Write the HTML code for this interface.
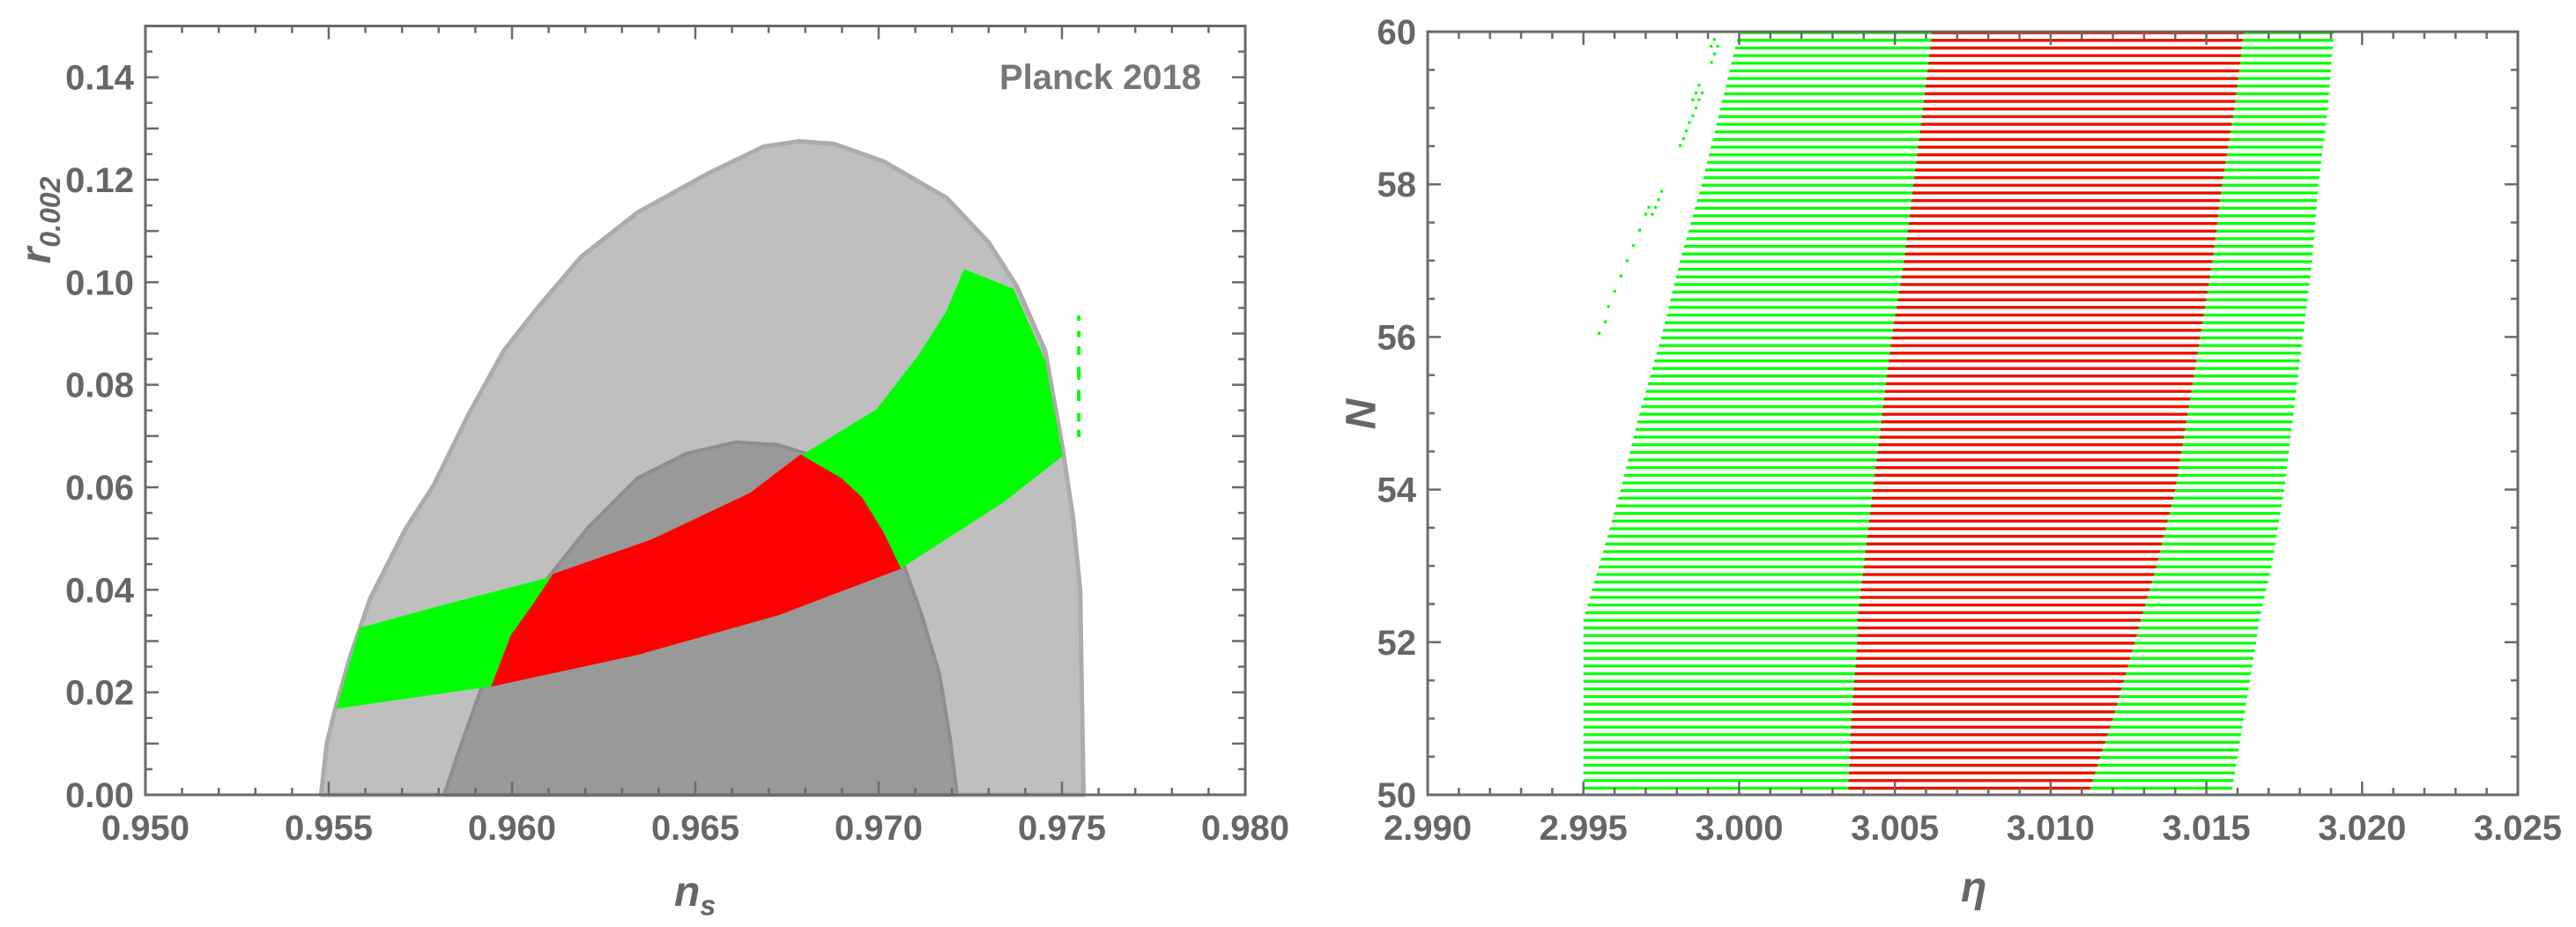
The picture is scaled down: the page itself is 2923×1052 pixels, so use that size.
<!DOCTYPE html>
<html><head><meta charset="utf-8"><style>
html,body{margin:0;padding:0;background:#fff;}
svg{display:block;font-family:"Liberation Sans",sans-serif;}
.tl{font-size:40px;font-weight:bold;fill:#666;}
</style></head><body>
<svg id="chart" width="2923" height="1052" viewBox="0 0 2923 1052" xmlns="http://www.w3.org/2000/svg">
<defs>
<pattern id="gstripe" patternUnits="userSpaceOnUse" x="0" y="35.5" width="20" height="8.66"><rect x="0" y="0" width="20" height="3.2" fill="#00ff00"/></pattern>
<pattern id="rstripe" patternUnits="userSpaceOnUse" x="0" y="35.5" width="20" height="8.66"><rect x="0" y="0" width="20" height="3.2" fill="#ff0000"/></pattern>
</defs>
<g id="left"></g>
<g id="right"></g>
</svg>
<script>
// ---- Left panel data (ns, r) ----
const lightNs=[.95479,.95495,.95518,.95556,.95613,.95709,.95786,.95882,.95978,.96074,.96189,.96342,.96534,.96687,.96783,.96879,.97013,.97185,.97300,.97377,.97454,.97502,.97530,.97550,.97553,.97559];
const lightR=[0,.0101,.0168,.0264,.0383,.0518,.0604,.0743,.0867,.0954,.1050,.1136,.1212,.1265,.1275,.1270,.1236,.1165,.1078,.0992,.0867,.0676,.0542,.0398,.0254,0];
const darkNs=[.95815,.95853,.95920,.96016,.96112,.96208,.96342,.96476,.96610,.96725,.96802,.96898,.96974,.97070,.97118,.97166,.97195,.97214];
const darkR=[0,.0081,.0216,.0350,.0436,.0522,.0618,.0666,.0688,.0683,.0666,.0618,.0551,.0446,.0350,.0235,.0110,0];
const greenNs=[.95521,.95585,.95805,.96121,.96380,.96649,.96802,.96994,.97109,.97185,.97233,.97368,.97454,.97502,.97339,.97070,.96725,.96342,.95939];
const greenR=[.0168,.0326,.0369,.0428,.0498,.0589,.0668,.0752,.0858,.0944,.1026,.0987,.0848,.0661,.0570,.0446,.0350,.0273,.0211];
const redNs=[.96112,.96380,.96649,.96787,.96898,.96955,.97013,.97061,.96725,.96342,.95943,.95997,.96054];
const redR=[.0431,.0498,.0589,.0664,.0618,.0580,.0513,.0441,.0350,.0273,.0211,.0312,.0369];
const dashNs=.97546;
const dashR0=[.0935,.0905,.0875,.0835,.0790,.0745,.0712];
const dashR1=[.0925,.0893,.0858,.0810,.0768,.0728,.0698];
const leftXTicks=["0.950","0.955","0.960","0.965","0.970","0.975","0.980"];
const leftYTicks=["0.00","0.02","0.04","0.06","0.08","0.10","0.12","0.14"];
// ---- Right panel data (eta boundaries vs N) ----
const knN=[50,51,52,52.3,53,54,55,56,57,58,59,60];
const gLeft=[2.995,2.995,2.995,2.995,2.9955,2.9962,2.9968,2.9975,2.9981,2.9988,2.9994,3.0000];
const rLeft=[3.0035,3.0036,3.0038,3.0038,3.0040,3.0043,3.0046,3.0049,3.0053,3.0056,3.0059,3.0062];
const rRight=[3.0112,3.0120,3.0127,3.0129,3.0134,3.0140,3.0144,3.0148,3.0152,3.0155,3.0159,3.0162];
const gRight=[3.0158,3.0162,3.0166,3.0167,3.0171,3.0175,3.0178,3.0181,3.0184,3.0186,3.0189,3.0191];
const dotEta=[2.99920,2.99910,2.99931,2.99921,2.99911,2.99871,2.99861,2.99881,2.99851,2.99871,2.99861,2.99851,2.99840,2.99830,2.99821,2.99811,2.99751,2.99741,2.99710,2.99731,2.99700,2.99721,2.9968,2.9966,2.9964,2.9962,2.9960,2.9958,2.9957,2.9955];
const dotN=[59.90,59.81,59.81,59.71,59.60,59.30,59.20,59.20,59.11,59.11,59.00,58.90,58.81,58.70,58.60,58.51,57.91,57.80,57.70,57.70,57.61,57.61,57.4,57.2,57.0,56.8,56.6,56.4,56.2,56.05];
const rightXTicks=["2.990","2.995","3.000","3.005","3.010","3.015","3.020","3.025"];
const rightYTicks=["50","52","54","56","58","60"];

const NS="http://www.w3.org/2000/svg";
function mk(parent,tag,attrs){const e=document.createElementNS(NS,tag);for(const k in attrs)e.setAttribute(k,attrs[k]);parent.appendChild(e);return e;}
// left axes
const L={x0:165,x1:1413,y0:902,y1:29.5};
const lx=v=>L.x0+(v-0.95)/0.03*(L.x1-L.x0);
const ly=v=>L.y0-v/0.15*(L.y0-L.y1);
const R={x0:1620,x1:2857,y0:902,y1:36};
const rx=v=>R.x0+(v-2.99)/0.035*(R.x1-R.x0);
const ry=v=>R.y0-(v-50)/10*(R.y0-R.y1);

const gl=document.getElementById('left');
function poly(g,xs,ys,fx,fy,attrs,name){
  const pts=xs.map((v,i)=>fx(v).toFixed(1)+','+fy(ys[i]).toFixed(1)).join(' ');
  const p=mk(g,'polygon',Object.assign({points:pts},attrs));
  
  
  return p;
}
poly(gl,lightNs,lightR,lx,ly,{fill:'#bfbfbf',stroke:'#acacac','stroke-width':5,'stroke-linejoin':'round'},'planck-95-region');
poly(gl,darkNs,darkR,lx,ly,{fill:'#999999',stroke:'#8e8e8e','stroke-width':4,'stroke-linejoin':'round'},'planck-68-region');
poly(gl,greenNs,greenR,lx,ly,{fill:'#00ff00'},'green-region');
poly(gl,redNs,redR,lx,ly,{fill:'#ff0000'},'red-region');
dashR0.forEach((v,i)=>{
  const d=mk(gl,'line',{x1:lx(dashNs),x2:lx(dashNs),y1:ly(v),y2:ly(dashR1[i]),stroke:'#00ff00','stroke-width':4});
  
  
});
// clip white below axis
function frame(g,A,name){
  const f=mk(g,'rect',{x:A.x0,y:A.y1,width:A.x1-A.x0,height:A.y0-A.y1,fill:'none',stroke:'#6a6a6a','stroke-width':3});
  
  
}
function tick(g,x1,y1,x2,y2){const t=mk(g,'line',{x1,y1,x2,y2,stroke:'#6a6a6a','stroke-width':2.5});
  
  }
function label(g,x,y,txt,anchor,name){const t=mk(g,'text',{x,y,'text-anchor':anchor,class:'tl'});t.textContent=txt;
  
  return t;}

frame(gl,L,'left-plot-frame');
// left ticks
for(let i=0;i<=30;i++){const v=0.95+i*0.001;const x=lx(v);const len=i%5==0?15:8;tick(gl,x,L.y0,x,L.y0-len);tick(gl,x,L.y1,x,L.y1+len);}
for(let i=0;i<=30;i++){const v=i*0.005;const y=ly(v);const len=i%2==0?15:8;tick(gl,L.x0,y,L.x0+len,y);tick(gl,L.x1,y,L.x1-len,y);}
leftXTicks.forEach(s=>label(gl,lx(parseFloat(s)),953,s,'middle','x-tick-label'));
leftYTicks.forEach(s=>label(gl,152,ly(parseFloat(s))+14,s,'end','y-tick-label'));
const pl=label(gl,1363,101,'Planck 2018','end','planck-2018-label');pl.setAttribute('fill','#777');pl.setAttribute('style','fill:#777');

// right panel
const gr=document.getElementById('right');
const gPoly=poly(gr,gLeft.concat(gRight.slice().reverse()),knN.concat(knN.slice().reverse()),rx,ry,{fill:'url(#gstripe)'},'green-stripes-region');
const rPoly=poly(gr,rLeft.concat(rRight.slice().reverse()),knN.concat(knN.slice().reverse()),rx,ry,{fill:'url(#rstripe)'},'red-stripes-region');
dotEta.forEach((v,i)=>{
  const d=mk(gr,'rect',{x:rx(v)-1.5,y:ry(dotN[i])-1.5,width:3.2,height:3.2,fill:'#00ff00'});
  
  
});
frame(gr,R,'right-plot-frame');
for(let i=0;i<=35;i++){const v=2.99+i*0.001;const x=rx(v);const len=i%5==0?15:8;tick(gr,x,R.y0,x,R.y0-len);tick(gr,x,R.y1,x,R.y1+len);}
for(let i=0;i<=20;i++){const v=50+i*0.5;const y=ry(v);const len=i%4==0?15:8;tick(gr,R.x0,y,R.x0+len,y);tick(gr,R.x1,y,R.x1-len,y);}
rightXTicks.forEach(s=>label(gr,rx(parseFloat(s)),953,s,'middle','x-tick-label'));
rightYTicks.forEach(s=>label(gr,1607,ry(parseFloat(s))+14,s,'end','y-tick-label'));
</script>
<svg width="0" height="0"></svg>
<div style="position:absolute;left:0;top:0;width:2923px;height:1052px;pointer-events:none;font-family:'Liberation Sans',sans-serif;font-weight:bold;font-style:italic;color:#666;">
  <div style="position:absolute;left:765px;top:985px;font-size:48px;">n<sub style="font-size:32px;">s</sub></div>
  <div style="position:absolute;left:45px;top:250px;font-size:48px;transform:translate(-50%,-50%) rotate(-90deg);white-space:nowrap;">r<sub style="font-size:32px;">0.002</sub></div>
  <div style="position:absolute;left:2225px;top:980px;font-size:48px;">η</div>
  <div style="position:absolute;left:1545px;top:470px;font-size:48px;transform:translate(-50%,-50%) rotate(-90deg);">N</div>
</div>
</body></html>
